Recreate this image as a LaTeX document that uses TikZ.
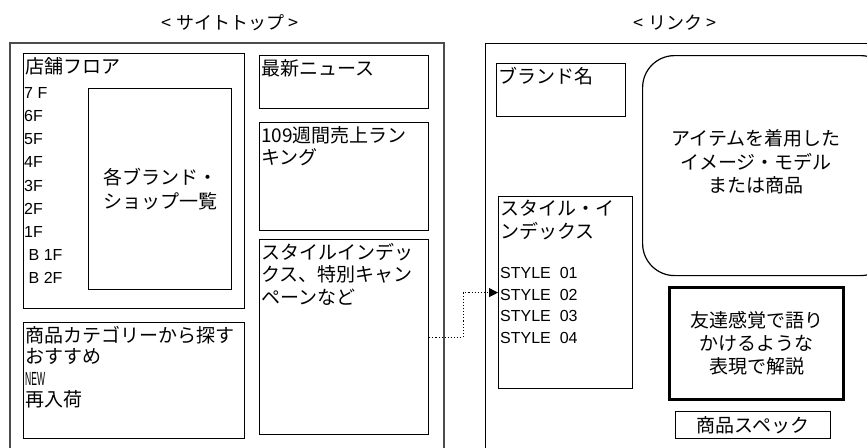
\documentclass[tikz,border=0pt]{standalone}
\usepackage{fontspec}
\usepackage{graphicx}
\setmainfont{Noto Sans CJK JP}
\newfontfamily\latinfont{Liberation Sans}
\usetikzlibrary{arrows.meta}

\tikzset{
  panel/.style={draw, line width=1.2pt, anchor=north west, inner sep=0pt},
  frame/.style={panel, draw=black!70, line width=1.8pt},
  caption/.style={anchor=north west, inner sep=0pt, align=left, font=\fontsize{19}{22.5}\selectfont},
  centered/.style={inner sep=0pt, align=center, font=\fontsize{19}{23.5}\selectfont},
  floors/.style={caption, font=\latinfont\fontsize{16}{23.2}\selectfont},
  styles/.style={caption, font=\latinfont\fontsize{16}{21.7}\selectfont},
  link/.style={dotted, line width=1.1pt, -{Triangle[length=9pt,width=9pt]}}
}

\begin{document}
\begin{tikzpicture}[x=1pt, y=-1pt]
\useasboundingbox (0,0) rectangle (867,447);
\clip (0,0) rectangle (867,447);

% titles
\node[centered, font=\fontsize{18}{22}\selectfont] (toptitle) at (230,23) {< サイトトップ >};
\node[centered, font=\fontsize{18}{22}\selectfont] (linktitle) at (675,23) {< リンク >};

% site top page
\node[frame, minimum width=434pt, minimum height=440pt] (sitetop) at (9,42) {};

\node[panel, minimum width=221pt, minimum height=255pt] (floor) at (23,53) {};
\node[caption] (floorlbl) at ([shift={(2,4)}]floor.north west) {店舗フロア};
\node[floors] (floorlist) at (24,87) {7 F\\6F\\5F\\4F\\3F\\2F\\1F\\\ B 1F\\\ B 2F};
\node[panel, minimum width=143pt, minimum height=201pt] (shops) at (88,88) {};
\node[centered, fill=none, font=\fontsize{19}{24}\selectfont] (shopslbl) at (shops.center) {各ブランド・\\ショップ一覧};

\node[panel, minimum width=221pt, minimum height=116pt] (category) at (23,322) {};
\node[caption, font=\fontsize{19}{21.3}\selectfont] (categorylbl) at ([shift={(2,4)}]category.north west)
  {商品カテゴリーから探す\\おすすめ\\{\latinfont\scalebox{0.45}[1]{NEW}}\\再入荷};

\node[panel, minimum width=169pt, minimum height=53pt] (news) at (259,55) {};
\node[caption] (newslbl) at ([shift={(2,4)}]news.north west) {最新ニュース};

\node[panel, minimum width=169pt, minimum height=108pt] (ranking) at (259,122) {};
\node[caption] (rankinglbl) at ([shift={(2,4)}]ranking.north west) {109週間売上ラン\\キング};

\node[panel, minimum width=169pt, minimum height=195pt] (sidx) at (259,239) {};
\node[caption] (sidxlbl) at ([shift={(2,4)}]sidx.north west) {スタイルインデッ\\クス、特別キャン\\ペーンなど};

% link page
\node[panel, minimum width=420pt, minimum height=440pt] (linkpage) at (485,43) {};

\node[panel, minimum width=129pt, minimum height=53pt] (brand) at (496,63) {};
\node[caption] (brandlbl) at ([shift={(2,4)}]brand.north west) {ブランド名};

\node[panel, rounded corners=32pt, minimum width=250pt, minimum height=220pt] (photo) at (642,55) {};
\node[centered] (photolbl) at (756,162) {アイテムを着用した\\イメージ・モデル\\または商品};

\node[panel, minimum width=134pt, minimum height=192pt] (rstyle) at (498,196) {};
\node[caption] (rstylelbl) at ([shift={(2,4)}]rstyle.north west) {スタイル・イ\\ンデックス};
\node[styles] (stylelist) at (500,267) {STYLE\ \ 01\\STYLE\ \ 02\\STYLE\ \ 03\\STYLE\ \ 04};

\node[panel, line width=3pt, minimum width=174pt, minimum height=112pt] (talk) at (668,286) {};
\node[centered, font=\fontsize{19}{23}\selectfont] (talklbl) at (talk.center) {友達感覚で語り\\かけるような\\表現で解説};

\node[panel, minimum width=155pt, minimum height=27pt] (spec) at (675,411) {};
\node[centered] (speclbl) at (spec.center) {商品スペック};

% connector
\draw[link] (sidx.east) -- ++(34,0) |- (rstyle.west);

\end{tikzpicture}
\end{document}
